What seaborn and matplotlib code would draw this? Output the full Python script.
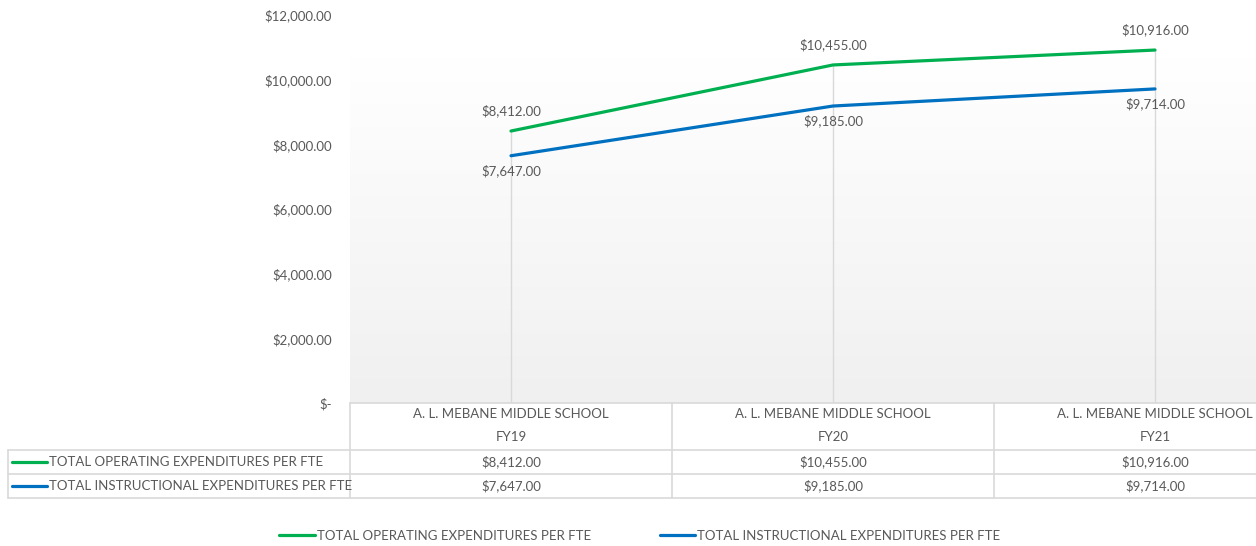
import numpy as np
import pandas as pd
import matplotlib
matplotlib.use('Agg')
import matplotlib.pyplot as plt
from matplotlib.lines import Line2D
from matplotlib.colors import LinearSegmentedColormap
import seaborn as sns

# ---------------- data ----------------
school = 'A. L. MEBANE MIDDLE SCHOOL'
years = ['FY19', 'FY20', 'FY21']
operating = [8412, 10455, 10916]
instructional = [7647, 9185, 9714]
series_names = ['TOTAL OPERATING EXPENDITURES PER FTE',
                'TOTAL INSTRUCTIONAL EXPENDITURES PER FTE']
colors = ['#00b050', '#0070c0']
yticks = [0, 2000, 4000, 6000, 8000, 10000, 12000]

df = pd.DataFrame({
    'year': years * 2,
    'value': operating + instructional,
    'series': [series_names[0]] * 3 + [series_names[1]] * 3,
})

def money(v):
    return '$-' if v == 0 else f'${v:,.2f}'

# ---------------- style ----------------
sns.set_style('white')
plt.rcParams['font.family'] = ['Lato', 'DejaVu Sans']
txt = '#595959'
grid = '#d9d9d9'
fs = 9.5

W, H = 1256, 546
fig = plt.figure(figsize=(W / 100, H / 100), dpi=100)

def fx(px):
    return px / W

def fy(py):
    return 1 - py / H

left, right, top, bottom = 350, 1256, 15, 403
ax = fig.add_axes([fx(left), fy(bottom), fx(right - left), (bottom - top) / H])

sns.lineplot(data=df, x='year', y='value', hue='series', palette=colors,
             linewidth=2.3, ax=ax, legend=False, zorder=3)

xmax = -0.5 + (right - left) / 322
ax.set_xlim(-0.5, xmax)
ax.set_ylim(0, 12000)

# background gradient
cmap = LinearSegmentedColormap.from_list('bg', ['#f0f0f0', '#ffffff'])
ax.imshow(np.linspace(0, 1, 256).reshape(-1, 1), cmap=cmap, origin='lower',
          extent=(-0.5, xmax, 0, 10700), aspect='auto', zorder=0)

# drop lines
tops = [max(a, b) for a, b in zip(operating, instructional)]
ax.vlines(range(len(years)), 0, tops, color=grid, lw=1, zorder=1)

# data labels
for i, (a, b) in enumerate(zip(operating, instructional)):
    ax.annotate(money(a), (i, a), xytext=(0, 10), textcoords='offset points',
                ha='center', va='bottom', color=txt, fontsize=fs)
    ax.annotate(money(b), (i, b), xytext=(0, -6), textcoords='offset points',
                ha='center', va='top', color=txt, fontsize=fs)

ax.set_yticks(yticks)
ax.set_yticklabels([money(v) for v in yticks], color=txt, fontsize=fs)
ax.tick_params(axis='y', length=0, pad=13)
ax.set_xticks([])
ax.set_xlabel('')
ax.set_ylabel('')
for s in ax.spines.values():
    s.set_visible(False)

# ---------------- data table ----------------
col_w = 322
row_lines = [403, 450, 474, 498]
def hline(y, x0, x1):
    fig.add_artist(Line2D([fx(x0), fx(x1)], [fy(y), fy(y)], color=grid, lw=1.2))
def vline(x, y0, y1):
    fig.add_artist(Line2D([fx(x), fx(x)], [fy(y0), fy(y1)], color=grid, lw=1.2))

hline(403, left, right)
for y in row_lines[1:]:
    hline(y, 8, right)
vline(8, 450, 498)
for i in range(len(years)):
    vline(left + i * col_w, 403, 498)

for i, yr in enumerate(years):
    cx = left + col_w / 2 + i * col_w
    fig.text(fx(cx), fy(414), school, ha='center', va='center', color=txt, fontsize=fs)
    fig.text(fx(cx), fy(437), yr, ha='center', va='center', color=txt, fontsize=fs)
    fig.text(fx(cx), fy(462), money(operating[i]), ha='center', va='center', color=txt, fontsize=fs)
    fig.text(fx(cx), fy(486), money(instructional[i]), ha='center', va='center', color=txt, fontsize=fs)

for name, c, y in zip(series_names, colors, [462, 486]):
    fig.add_artist(Line2D([fx(12), fx(47)], [fy(y), fy(y)], color=c, lw=2.3))
    fig.text(fx(49), fy(y), name, ha='left', va='center', color=txt, fontsize=fs)

# ---------------- legend ----------------
handles = [Line2D([], [], color=c, lw=2.3) for c in colors]
fig.legend(handles, series_names, loc='center', bbox_to_anchor=(fx(640), fy(536)),
           ncol=2, frameon=False, fontsize=fs, handlelength=2.7, handletextpad=0.15,
           columnspacing=5.2, labelcolor=txt)

fig.savefig('out.png', dpi=100)
